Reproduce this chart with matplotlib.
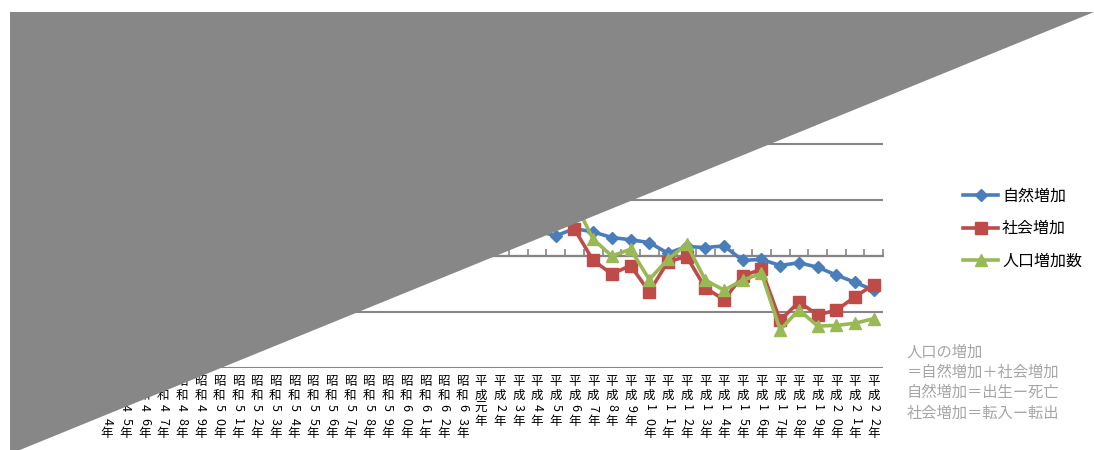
import matplotlib
matplotlib.use('Agg')
import matplotlib.pyplot as plt
from matplotlib.patches import Polygon
from matplotlib.transforms import blended_transform_factory

plt.rcParams['font.family'] = ['Noto Sans CJK JP', 'DejaVu Sans']

# 昭和44年 .. 平成22年
years = [f'昭和{n}年' for n in range(44, 64)] + ['平成元年'] + [f'平成{n}年' for n in range(2, 23)]

natural = [200, 210, 220, 230, 240, 235, 220, 205, 190, 180,
           170, 160, 150, 140, 135, 125, 115, 105, 95, 85,
           75, 65, 55, 45, 36, 49, 43, 33, 29, 24,
           5, 17, 15, 18, -8, -6, -17, -12, -20, -34,
           -47, -61]
social = [140, 120, 90, 60, 30, 10, -20, 0, 20, 10,
          -10, -30, 0, 20, 10, 30, 50, 70, 90, 80,
          70, 60, 90, 110, 80, 48, -8, -32, -17, -64,
          -10, -1, -57, -78, -35, -24, -115, -82, -105, -97,
          -73, -51]
total = [340, 330, 310, 290, 270, 245, 200, 205, 210, 190,
         160, 130, 150, 160, 145, 155, 165, 175, 185, 165,
         145, 125, 145, 155, 115, 97, 30, 0, 12, -42,
         -6, 21, -43, -61, -43, -31, -132, -96, -125, -124,
         -120, -112]

series_names = ['自然増加', '社会増加', '人口増加数']
note_lines = ['人口の増加', '＝自然増加＋社会増加', '自然増加＝出生ー死亡', '社会増加＝転入ー転出']

W, H = 1094, 450
fig = plt.figure(figsize=(W / 100, H / 100), dpi=100)
fig.patch.set_facecolor('white')

ax = fig.add_axes([97.6 / W, (H - 368) / H, 785.4 / W, 336 / H])
ax.set_xlim(-0.5, len(years) - 0.5)
ax.set_ylim(-200, 400)

grid_c = '#868686'
ax.set_yticks(range(-200, 401, 100))
ax.yaxis.grid(True, color=grid_c, lw=1.5)
ax.set_axisbelow(True)
ax.tick_params(axis='y', length=0, labelsize=9)
for s in ['top', 'right', 'left']:
    ax.spines[s].set_visible(False)

# category axis sits on zero, ticks between categories pointing up
ax.spines['bottom'].set_position(('data', 0))
ax.spines['bottom'].set_color(grid_c)
ax.spines['bottom'].set_linewidth(1.6)
ax.set_xticks([k - 0.5 for k in range(len(years) + 1)])
ax.tick_params(axis='x', direction='in', length=5, width=1.2, color=grid_c, labelbottom=False)

x = range(len(years))
ax.plot(x, natural, color='#4A7EBB', lw=2.6, marker='D', ms=6.5, label=series_names[0], zorder=3)
ax.plot(x, social, color='#BE4B48', lw=2.6, marker='s', ms=8, label=series_names[1], zorder=4)
ax.plot(x, total, color='#98B954', lw=2.6, marker='^', ms=9, label=series_names[2], zorder=5)

# stacked vertical labels, digits turned sideways
trans = blended_transform_factory(ax.transData, fig.transFigure)
for i, lab in enumerate(years):
    for j, ch in enumerate(lab):
        ypix = 382 + 13 * j
        ax.text(i, (H - ypix) / H, ch, transform=trans, ha='center', va='center',
                rotation=-90 if ch.isdigit() else 0, fontsize=9, clip_on=False)

fig.legend(loc='upper left', bbox_to_anchor=(963 / W, (H - 188) / H), frameon=False,
           fontsize=11.5, handlelength=2.2, handletextpad=0.25, labelspacing=0.95,
           borderpad=0, borderaxespad=0)

for k, line in enumerate(note_lines):
    fig.text(907 / W, (H - (352 + 20.3 * k)) / H, line, color='#A6A6A6', fontsize=11, va='center')

fig.add_artist(Polygon([(10 / W, 438 / H), (1, 438 / H), (10 / W, -4 / H)], closed=True,
                       transform=fig.transFigure, facecolor='#878787', edgecolor='none', zorder=10))

fig.savefig('out.png', dpi=100)
